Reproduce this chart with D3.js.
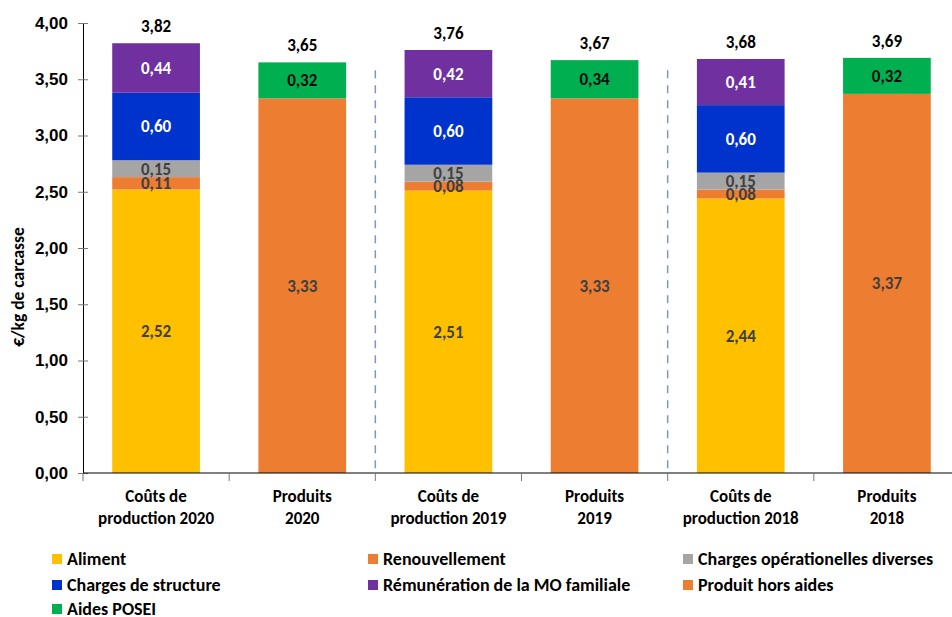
<!DOCTYPE html>
<html>
<head>
<meta charset="utf-8">
<script src="https://cdn.jsdelivr.net/npm/d3@7"></script>
<style>
  body { margin: 0; background: #fff; }
  svg { font-family: Carlito, Calibri, Lato, sans-serif; font-weight: bold; }
</style>
</head>
<body>
<div id="chart"></div>
<script>
var width = 952;
var height = 617;

// categories (two lines each)
var categories = [
    ["Coûts de", "production 2020"],
    ["Produits", "2020"],
    ["Coûts de", "production 2019"],
    ["Produits", "2019"],
    ["Coûts de", "production 2018"],
    ["Produits", "2018"]
];

// series values, one per category
var aliment        = [2.52, 0, 2.51, 0, 2.44, 0];
var renouvellement = [0.11, 0, 0.08, 0, 0.08, 0];
var chargesOp      = [0.15, 0, 0.15, 0, 0.15, 0];
var chargesStruct  = [0.60, 0, 0.60, 0, 0.60, 0];
var remuneration   = [0.44, 0, 0.42, 0, 0.41, 0];
var produitHors    = [0, 3.33, 0, 3.33, 0, 3.37];
var aidesPosei     = [0, 0.32, 0, 0.34, 0, 0.32];

var yTicks = [0, 0.5, 1, 1.5, 2, 2.5, 3, 3.5, 4];

var series = [
    {name: "Aliment", values: aliment, color: "#FFC000", text: "#404040"},
    {name: "Renouvellement", values: renouvellement, color: "#ED7D31", text: "#404040"},
    {name: "Charges opérationelles diverses", values: chargesOp, color: "#A5A5A5", text: "#404040"},
    {name: "Charges de structure", values: chargesStruct, color: "#0033CC", text: "#ffffff"},
    {name: "Rémunération de la MO familiale", values: remuneration, color: "#7030A0", text: "#ffffff"},
    {name: "Produit hors aides", values: produitHors, color: "#ED7D31", text: "#404040"},
    {name: "Aides POSEI", values: aidesPosei, color: "#00B050", text: "#0d0d0d"}
];

var fmt = function(v) { return v.toFixed(2).replace(".", ","); };

var svg = d3.select("#chart").append("svg")
    .attr("width", width)
    .attr("height", height);

var x = d3.scaleBand()
    .domain(d3.range(categories.length))
    .range([83, 960])
    .paddingInner(0.4)
    .paddingOuter(0.2);

var y = d3.scaleLinear()
    .domain([0, 4])
    .range([473, 23]);

// stacked data
var keys = series.map(function(s, i) { return i; });
var rows = categories.map(function(c, j) {
    var r = {idx: j};
    series.forEach(function(s, i) { r[i] = s.values[j]; });
    return r;
});
var stacked = d3.stack().keys(keys)(rows);

// dashed separators between years
var step = x.step();
var gap = step - x.bandwidth();
[2, 4].forEach(function(j) {
    svg.append("line")
        .attr("x1", x(j) - gap / 2).attr("x2", x(j) - gap / 2)
        .attr("y1", y(3.58)).attr("y2", y(0))
        .attr("stroke", "#8497B0")
        .attr("stroke-width", 1.5)
        .attr("stroke-dasharray", "8,7");
});

// bars
var layer = svg.selectAll(".layer")
    .data(stacked)
    .enter().append("g")
    .attr("fill", function(d) { return series[d.key].color; });

layer.selectAll("rect")
    .data(function(d) { return d; })
    .enter().append("rect")
    .attr("x", function(d) { return x(d.data.idx); })
    .attr("y", function(d) { return y(d[1]); })
    .attr("width", x.bandwidth())
    .attr("height", function(d) { return y(d[0]) - y(d[1]); });

// segment labels
stacked.forEach(function(s) {
    var ser = series[s.key];
    s.forEach(function(d) {
        var v = d[1] - d[0];
        if (v <= 0) return;
        svg.append("text")
            .attr("x", x(d.data.idx) + x.bandwidth() / 2)
            .attr("y", y((d[0] + d[1]) / 2))
            .attr("dy", "0.35em")
            .attr("text-anchor", "middle")
            .attr("font-size", 17)
            .attr("fill", ser.text)
            .text(fmt(v));
    });
});

// totals
var lastLayer = stacked[stacked.length - 1];
lastLayer.forEach(function(d) {
    svg.append("text")
        .attr("x", x(d.data.idx) + x.bandwidth() / 2)
        .attr("y", y(d[1]) - 11)
        .attr("text-anchor", "middle")
        .attr("font-size", 17)
        .attr("fill", "#000")
        .text(fmt(d[1]));
});

// y axis
var yAxis = svg.append("g")
    .attr("transform", "translate(83,0)")
    .call(d3.axisLeft(y).tickValues(yTicks).tickFormat(fmt).tickSize(5).tickSizeOuter(0));
yAxis.select(".domain").attr("stroke", "#000");
yAxis.selectAll(".tick line").attr("stroke", "#777").attr("x2", -5).attr("x1", 5);
yAxis.selectAll(".tick text")
    .attr("x", -15)
    .attr("font-size", 17)
    .attr("font-family", null)
    .attr("fill", "#000");

svg.append("text")
    .attr("transform", "translate(24,287) rotate(-90)")
    .attr("text-anchor", "middle")
    .attr("font-size", 17.5)
    .text("€/kg de carcasse");

// x axis
svg.append("line")
    .attr("x1", 83).attr("x2", 960)
    .attr("y1", y(0)).attr("y2", y(0))
    .attr("stroke", "#000");

d3.range(categories.length + 1).forEach(function(j) {
    var bx = 83 + x.paddingOuter() * step + j * step - gap / 2;
    if (j === 0) bx = 83;
    svg.append("line")
        .attr("x1", bx).attr("x2", bx)
        .attr("y1", y(0)).attr("y2", y(0) + 8)
        .attr("stroke", "#777");
});

categories.forEach(function(c, j) {
    var t = svg.append("text")
        .attr("text-anchor", "middle")
        .attr("font-size", 17)
        .attr("x", x(j) + x.bandwidth() / 2)
        .attr("y", 502);
    c.forEach(function(line, k) {
        t.append("tspan")
            .attr("x", x(j) + x.bandwidth() / 2)
            .attr("dy", k === 0 ? 0 : 22)
            .text(line);
    });
});

// legend
var legendPos = [[52, 559], [368, 559], [683, 559], [52, 585], [368, 585], [683, 585], [52, 609]];
series.forEach(function(s, i) {
    var g = svg.append("g")
        .attr("transform", "translate(" + legendPos[i][0] + "," + legendPos[i][1] + ")");
    g.append("rect")
        .attr("x", 0).attr("y", -5)
        .attr("width", 10).attr("height", 10)
        .attr("fill", s.color);
    g.append("text")
        .attr("x", 15)
        .attr("dy", "0.35em")
        .attr("font-size", 18)
        .text(s.name);
});
</script>
</body>
</html>
